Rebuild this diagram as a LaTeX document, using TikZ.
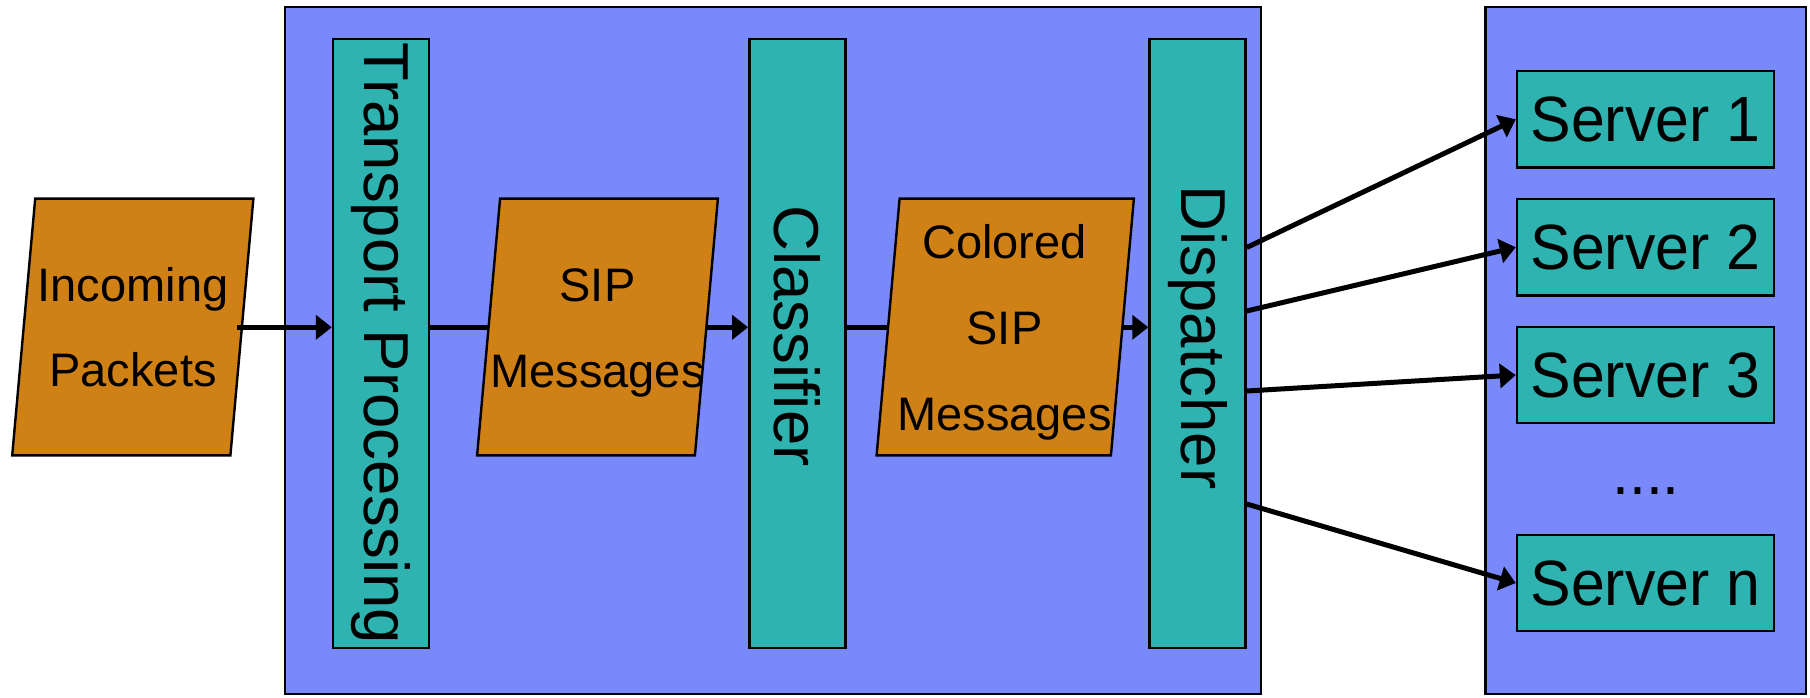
\documentclass[tikz,border=0pt]{standalone}
\usepackage{fontspec}
\usepackage{graphicx}
\setmainfont{Liberation Sans}
\newfontfamily\srvfont[FakeStretch=0.95]{Liberation Sans}
\usetikzlibrary{arrows.meta,calc}
\pgfdeclarelayer{bg}
\pgfdeclarelayer{conn}
\pgfdeclarelayer{shp}
\pgfsetlayers{bg,conn,shp,main}
\definecolor{boxblue}{RGB}{122,137,250}
\definecolor{tealbox}{RGB}{46,179,176}
\definecolor{orng}{RGB}{208,129,22}
\begin{document}
\begin{tikzpicture}[x=0.5pt,y=-0.5pt,
  frame/.style={draw=black, line width=1.2pt, fill=boxblue, inner sep=0pt},
  stage/.style={draw=black, line width=1.2pt, fill=tealbox, inner sep=0pt, minimum width=48pt, minimum height=304.5pt, font=\fontsize{31.75}{36}\selectfont},
  server/.style={draw=black, line width=1.2pt, fill=tealbox, inner sep=0pt, minimum width=128.5pt, minimum height=48.25pt, font=\srvfont\fontsize{32}{36}\selectfont},
  parabox/.style={inner sep=0pt, minimum height=128pt},
  paratext/.style={inner sep=0pt, align=center, font=\fontsize{23.5}{43}\selectfont},
  parashape/.style={draw=black, line width=1.2pt, fill=orng, line join=miter},
  link/.style={line width=2.5pt, -{Triangle[length=8pt,width=12pt]}}
]
\useasboundingbox (0,0) rectangle (1810,697);
\coordinate (ly) at (0,327.3);

% frames
\begin{pgfonlayer}{bg}
\node[frame, minimum width=488pt, minimum height=343.5pt] (left) at (773,350.75) {};
\node[frame, minimum width=160.2pt, minimum height=343.5pt] (right) at (1645.8,350.75) {};
\end{pgfonlayer}

% stages
\node[stage] (trans) at (381,343.5) {\rotatebox{-90}{Transport Processing}};
\node[stage] (cls) at (797.3,343.5) {\rotatebox{-90}{Classifier\hspace{7.5pt}}};
\node[stage] (disp) at (1197.5,343.5) {\rotatebox{-90}{Dispatcher\hspace{6pt}}};

% servers
\node[server] (s1) at (1645.5,119.3) {Server 1};
\node[server] (s2) at (1645.5,247.25) {Server 2};
\node[server] (s3) at (1645.5,375) {Server 3};
\node[server] (sn) at (1645.5,583) {Server n};
\node[font=\srvfont\fontsize{32}{36}\selectfont, inner sep=0pt, anchor=base] (dots) at (1646,494.5) {....};

% skewed message boxes
\node[parabox, minimum width=120.2pt] (incbox) at (132.8,327) {};
\node[parabox, minimum width=120pt] (sipbox) at (597.5,327) {};
\node[parabox, minimum width=128.25pt] (csipbox) at (1005.25,327) {};
\begin{pgfonlayer}{shp}
\foreach \n in {incbox,sipbox,csipbox}{
  \draw[parashape] ([xshift=11.5pt]\n.north west) -- (\n.north east)
     -- ([xshift=-11.5pt]\n.south east) -- (\n.south west) -- cycle;
}
\end{pgfonlayer}
\node[paratext, font=\fontsize{23.5}{42.5}\selectfont] (inc) at (133,327) {Incoming\\Packets};
\node[paratext] (sip) at (597.5,332.8) {SIP\\Messages};
\node[paratext] (csip) at (1004.5,332.5) {Colored\\SIP\\Messages};

% connectors
\draw[link] ([xshift=-8pt]incbox.east |- ly) -- (trans.west |- ly);
\begin{pgfonlayer}{conn}
\draw[link] (trans.east |- ly) -- (cls.west |- ly);
\draw[link] (cls.east |- ly) -- (disp.west |- ly);
\draw[link] ([yshift=48pt]disp.east) -- (s1.west);
\draw[link] ([yshift=16.25pt]disp.east) -- (s2.west);
\draw[link] ([yshift=-23.75pt]disp.east) -- (s3.west);
\draw[link] ([yshift=-80.25pt]disp.east) -- (sn.west);
\end{pgfonlayer}
\end{tikzpicture}
\end{document}
